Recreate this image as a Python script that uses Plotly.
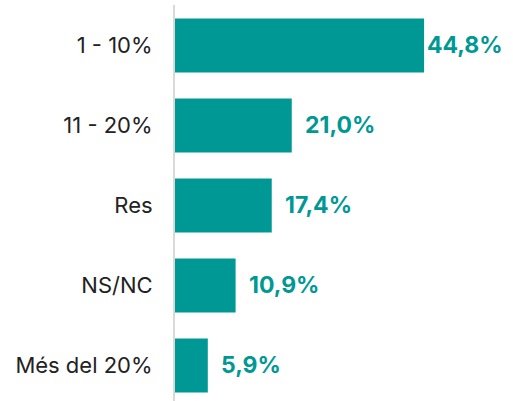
import plotly.graph_objects as go

categories = ["1 - 10%", "11 - 20%", "Res", "NS/NC", "Més del 20%"]
values = [44.8, 21.0, 17.4, 10.9, 5.9]
labels = ["44,8%", "21,0%", "17,4%", "10,9%", "5,9%"]
label_shift = [1, 11, 11, 11, 11]

teal = "#009894"

fig = go.Figure(go.Bar(
    x=values, y=categories, orientation="h",
    marker=dict(color=teal, line=dict(width=0)),
    width=0.675, hoverinfo="skip",
))

for c, v, t, s in zip(categories, values, labels, label_shift):
    fig.add_annotation(x=v, y=c, text=t, showarrow=False, xanchor="left",
                       xshift=s, font=dict(family="Inter", size=23, color=teal, weight="bold"))

fig.update_layout(
    width=513, height=401,
    margin=dict(l=175, r=60, t=5, b=0, autoexpand=False),
    paper_bgcolor="white", plot_bgcolor="white",
    showlegend=False,
    xaxis=dict(range=[0, 50], visible=False, fixedrange=True),
    yaxis=dict(categoryorder="array", categoryarray=categories,
               range=[4.444, -0.506], showgrid=False, zeroline=False,
               showline=True, linecolor="#d9d9d9", linewidth=2,
               ticks="", ticklabelstandoff=16, automargin=False,
               fixedrange=True,
               tickfont=dict(family="Inter", size=22, color="#222222")),
)

fig.write_html("out.html", config={"displayModeBar": False},
               post_script="document.body.style.margin='0';")
